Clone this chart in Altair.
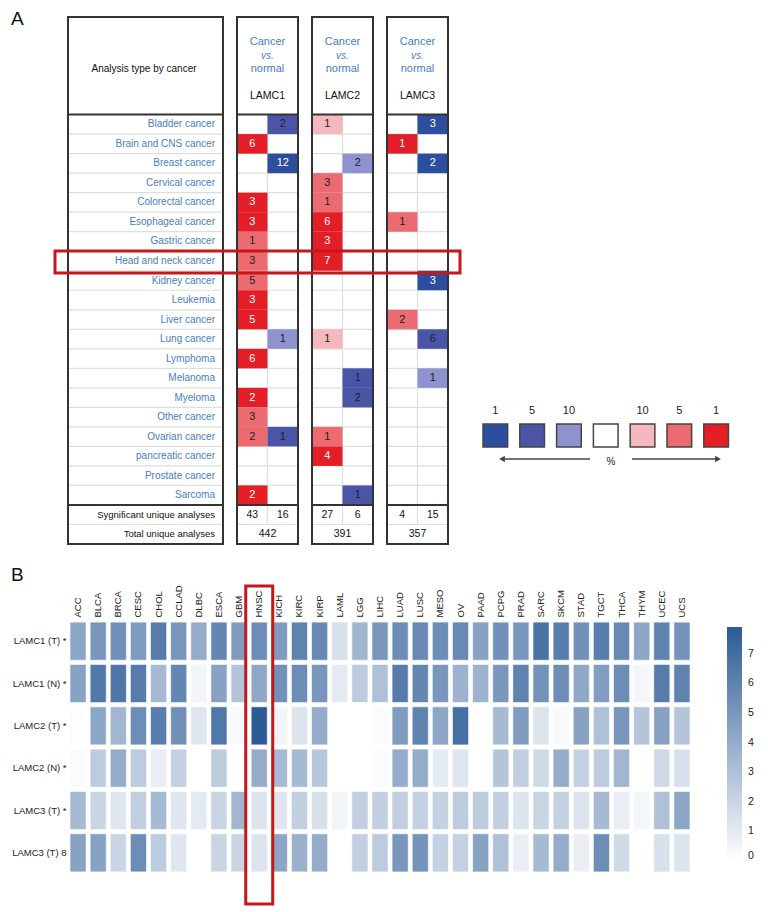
import altair as alt
import pandas as pd

FONT = "Liberation Sans, Arial, sans-serif"
SANS = "Liberation Sans, Arial, sans-serif"
BLUE_TXT = "#4a7dc4"
LINE = "#333333"
GRID = "#dedede"
HILITE = "#c8161d"

# ---------------- Panel A data ----------------
cancers = ["Bladder cancer", "Brain and CNS cancer", "Breast cancer", "Cervical cancer",
           "Colorectal cancer", "Esophageal cancer", "Gastric cancer", "Head and neck cancer",
           "Kidney cancer", "Leukemia", "Liver cancer", "Lung cancer", "Lymphoma", "Melanoma",
           "Myeloma", "Other cancer", "Ovarian cancer", "pancreatic cancer", "Prostate cancer",
           "Sarcoma"]
genes = ["LAMC1", "LAMC2", "LAMC3"]

# counts (0 = no significant analysis); shade: 1 strong, 2 medium, 3 light
LAMC1_up = [0, 6, 0, 0, 3, 3, 1, 3, 5, 3, 5, 0, 6, 0, 2, 3, 2, 0, 0, 2]
LAMC1_up_shade = [0, 1, 0, 0, 1, 1, 2, 2, 2, 1, 1, 0, 1, 0, 1, 2, 2, 0, 0, 1]
LAMC1_down = [2, 0, 12, 0, 0, 0, 0, 0, 0, 0, 0, 1, 0, 0, 0, 0, 1, 0, 0, 0]
LAMC1_down_shade = [2, 0, 1, 0, 0, 0, 0, 0, 0, 0, 0, 3, 0, 0, 0, 0, 2, 0, 0, 0]

LAMC2_up = [1, 0, 0, 3, 1, 6, 3, 7, 0, 0, 0, 1, 0, 0, 0, 0, 1, 4, 0, 0]
LAMC2_up_shade = [3, 0, 0, 2, 2, 1, 1, 1, 0, 0, 0, 3, 0, 0, 0, 0, 2, 1, 0, 0]
LAMC2_down = [0, 0, 2, 0, 0, 0, 0, 0, 0, 0, 0, 0, 0, 1, 2, 0, 0, 0, 0, 1]
LAMC2_down_shade = [0, 0, 3, 0, 0, 0, 0, 0, 0, 0, 0, 0, 0, 2, 2, 0, 0, 0, 0, 2]

LAMC3_up = [0, 1, 0, 0, 0, 1, 0, 0, 0, 0, 2, 0, 0, 0, 0, 0, 0, 0, 0, 0]
LAMC3_up_shade = [0, 1, 0, 0, 0, 2, 0, 0, 0, 0, 2, 0, 0, 0, 0, 0, 0, 0, 0, 0]
LAMC3_down = [3, 0, 2, 0, 0, 0, 0, 0, 3, 0, 0, 6, 0, 1, 0, 0, 0, 0, 0, 0]
LAMC3_down_shade = [1, 0, 1, 0, 0, 0, 0, 0, 1, 0, 0, 2, 0, 3, 0, 0, 0, 0, 0, 0]

significant_up = [43, 27, 4]
significant_down = [16, 6, 15]
total_unique = [442, 391, 357]

levels = ["up1", "up2", "up3", "down1", "down2", "down3", "none"]
level_colors = ["#e41e26", "#ec6b70", "#f4b8be", "#2b4e9e", "#4b55a8", "#8e92cf", "#ffffff"]
legend_levels = ["down1", "down2", "down3", "none", "up3", "up2", "up1"]
legend_labels = ["1", "5", "10", "", "10", "5", "1"]

gene_tables = {
    "LAMC1": (LAMC1_up, LAMC1_up_shade, LAMC1_down, LAMC1_down_shade),
    "LAMC2": (LAMC2_up, LAMC2_up_shade, LAMC2_down, LAMC2_down_shade),
    "LAMC3": (LAMC3_up, LAMC3_up_shade, LAMC3_down, LAMC3_down_shade),
}

# ---------------- Panel B data ----------------
hm_cols = ["ACC", "BLCA", "BRCA", "CESC", "CHOL", "CCLAD", "DLBC", "ESCA", "GBM", "HNSC",
           "KICH", "KIRC", "KIRP", "LAML", "LGG", "LIHC", "LUAD", "LUSC", "MESO", "OV",
           "PAAD", "PCPG", "PRAD", "SARC", "SKCM", "STAD", "TGCT", "THCA", "THYM", "UCEC", "UCS"]
hm_rows = ["LAMC1 (T) *", "LAMC1 (N) *", "LAMC2 (T) *", "LAMC2 (N) *", "LAMC3 (T) *", "LAMC3 (T) 8"]
LAMC1_T = [4.3, 5.0, 5.3, 4.8, 6.3, 5.0, 4.0, 5.8, 4.8, 5.5, 4.8, 6.0, 5.7, 1.5, 3.5, 5.0,
           5.5, 5.7, 5.5, 5.7, 4.5, 5.3, 5.0, 6.8, 6.2, 5.3, 6.2, 5.7, 4.3, 6.0, 5.2]
LAMC1_N = [4.5, 6.5, 6.6, 6.3, 3.3, 5.8, 0.5, 4.5, 2.8, 4.2, 5.3, 5.5, 5.0, 1.0, 2.5, 3.0,
           6.3, 5.8, 5.0, 3.7, 3.7, 5.0, 6.0, 5.2, 5.5, 4.2, 4.7, 5.5, 0.4, 6.3, 6.0]
LAMC2_T = [0.1, 4.3, 3.5, 5.5, 6.2, 5.3, 1.2, 6.5, 0.3, 7.9, 0.5, 1.3, 4.0, 0.0, 0.0, 0.2,
           4.8, 6.0, 4.3, 6.9, 0.0, 3.3, 4.8, 1.3, 0.3, 4.5, 3.0, 5.0, 2.8, 4.5, 2.8]
LAMC2_N = [0.2, 2.5, 4.0, 2.5, 0.8, 2.2, 0.0, 2.5, 0.0, 4.0, 3.3, 3.3, 2.7, 0.0, 0.0, 0.2,
           4.0, 4.0, 1.0, 1.2, 0.0, 2.8, 2.3, 1.8, 4.0, 2.2, 2.5, 3.5, 0.0, 1.8, 1.5]
LAMC3_T = [3.3, 2.0, 1.2, 2.3, 3.3, 1.2, 1.0, 2.0, 3.5, 1.3, 1.2, 2.3, 1.5, 0.5, 2.3, 2.3,
           2.3, 2.2, 2.2, 2.5, 2.5, 2.3, 1.3, 2.0, 2.2, 1.3, 3.3, 0.8, 0.4, 3.0, 4.3]
LAMC3_T8 = [4.5, 4.5, 2.0, 5.5, 2.5, 1.2, 0.0, 2.0, 2.0, 1.3, 4.3, 3.8, 4.0, 0.0, 2.3, 2.5,
            5.0, 5.2, 2.2, 2.2, 4.5, 3.0, 0.8, 3.3, 4.0, 0.8, 5.5, 1.8, 0.0, 1.5, 1.3]
hm_values = [LAMC1_T, LAMC1_N, LAMC2_T, LAMC2_N, LAMC3_T, LAMC3_T8]
colorbar_ticks = [0, 1, 2, 3, 4, 5, 6, 7]

# ---------------- layout constants ----------------
NB = len(cancers)
W_LABEL, W_GENE, W_LEG, H_A = 155, 61, 280, 527
LETTER_X = -57
one = pd.DataFrame({"k": [0]})
ys = alt.Scale(domain=[-5, NB + 2], reverse=True, nice=False, zero=False)
xs_gene = alt.Scale(domain=[0, 2], nice=False, zero=False)
level_scale = alt.Scale(domain=levels, range=level_colors)
row_bounds = pd.DataFrame({"b": list(range(1, NB)) + [NB + 1]})
thick_bounds = pd.DataFrame({"b": [0, NB]})


def frame_layers(width):
    grid = alt.Chart(row_bounds).mark_rule(color=GRID, strokeWidth=1.2).encode(
        x=alt.value(0), x2=alt.value(width), y=alt.Y("b:Q", scale=ys, axis=None))
    thick = alt.Chart(thick_bounds).mark_rule(color=LINE, strokeWidth=2).encode(
        x=alt.value(0), x2=alt.value(width), y=alt.Y("b:Q", scale=ys, axis=None))
    outline = alt.Chart(one).mark_rect(filled=False, stroke=LINE, strokeWidth=2).encode(
        x=alt.value(0), x2=alt.value(width),
        y=alt.YDatum(-5, scale=ys, axis=None), y2=alt.Y2Datum(NB + 2))
    return grid, thick, outline


def label_chart():
    grid, thick, outline = frame_layers(W_LABEL)
    lab_df = pd.DataFrame({"cancer": cancers, "row": list(range(NB))})
    labels = alt.Chart(lab_df).transform_calculate(yc="datum.row + 0.5").mark_text(
        align="right", color=BLUE_TXT, font=FONT, fontSize=10).encode(
        x=alt.value(147), y=alt.Y("yc:Q", scale=ys, axis=None), text="cancer:N")
    foot_df = pd.DataFrame({"t": ["Sygnificant unique analyses", "Total unique analyses"],
                            "r": [NB, NB + 1]})
    foot = alt.Chart(foot_df).transform_calculate(yc="datum.r + 0.5").mark_text(
        align="right", color="#111", font=FONT, fontSize=9.5).encode(
        x=alt.value(147), y=alt.Y("yc:Q", scale=ys, axis=None), text="t:N")
    head = alt.Chart(one).mark_text(text="Analysis type by cancer", color="#111",
                                    font=FONT, fontSize=10).encode(
        x=alt.value(76), y=alt.value(52))
    letter = alt.Chart(one).mark_text(text="A", font=SANS, fontSize=19, align="left",
                                      baseline="top", color="#111").encode(
        x=alt.value(LETTER_X), y=alt.value(-7))
    return alt.layer(grid, labels, foot, head, thick, outline, letter).properties(
        width=W_LABEL, height=H_A)


def gene_chart(gi):
    g = genes[gi]
    up, ups, dn, dns = gene_tables[g]
    recs = []
    for i in range(NB):
        if up[i]:
            recs.append({"row": i, "col": 0, "n": up[i], "level": f"up{ups[i]}"})
        if dn[i]:
            recs.append({"row": i, "col": 1, "n": dn[i], "level": f"down{dns[i]}"})
    cells = pd.DataFrame(recs)
    grid, thick, outline = frame_layers(W_GENE)
    vdiv = alt.Chart(one).mark_rule(color=GRID, strokeWidth=1.2).encode(
        x=alt.XDatum(1, scale=xs_gene, axis=None),
        y=alt.YDatum(0, scale=ys, axis=None), y2=alt.Y2Datum(NB + 1))
    rect = alt.Chart(cells).transform_calculate(
        col2="datum.col + 1", row2="datum.row + 1").mark_rect().encode(
        x=alt.X("col:Q", scale=xs_gene, axis=None), x2="col2:Q",
        y=alt.Y("row:Q", scale=ys, axis=None), y2="row2:Q",
        color=alt.Color("level:N", scale=level_scale, legend=None))
    tbase = alt.Chart(cells).transform_calculate(xc="datum.col + 0.5", yc="datum.row + 0.5")
    enc = dict(x=alt.X("xc:Q", scale=xs_gene, axis=None),
               y=alt.Y("yc:Q", scale=ys, axis=None), text="n:Q")
    t_strong = tbase.transform_filter(
        "datum.level == 'up1' || datum.level == 'down1'").mark_text(
        color="white", font=FONT, fontSize=11).encode(**enc)
    t_soft = tbase.transform_filter(
        "datum.level != 'up1' && datum.level != 'down1'").mark_text(
        color="#222", font=FONT, fontSize=11).encode(**enc)
    foot_df = pd.DataFrame({"col": [0, 1], "n": [significant_up[gi], significant_down[gi]]})
    foot = alt.Chart(foot_df).transform_calculate(
        xc="datum.col + 0.5", yc=f"{NB} + 0.5").mark_text(
        color="#111", font=FONT, fontSize=10.5).encode(
        x=alt.X("xc:Q", scale=xs_gene, axis=None),
        y=alt.Y("yc:Q", scale=ys, axis=None), text="n:Q")
    total = alt.Chart(pd.DataFrame({"n": [total_unique[gi]]})).mark_text(
        color="#111", font=FONT, fontSize=10.5).encode(
        x=alt.XDatum(1, scale=xs_gene, axis=None),
        y=alt.YDatum(NB + 1.5, scale=ys, axis=None), text="n:Q")
    h1 = alt.Chart(one).mark_text(text="Cancer", color=BLUE_TXT, font=FONT, fontSize=11).encode(
        x=alt.value(W_GENE / 2), y=alt.value(25))
    h2 = alt.Chart(one).mark_text(text="vs.", color=BLUE_TXT, font=FONT, fontSize=10,
                                  fontStyle="italic").encode(
        x=alt.value(W_GENE / 2), y=alt.value(39))
    h3 = alt.Chart(one).mark_text(text="normal", color=BLUE_TXT, font=FONT, fontSize=11).encode(
        x=alt.value(W_GENE / 2), y=alt.value(52))
    h4 = alt.Chart(one).mark_text(text=g, color="#111", font=FONT, fontSize=10.5).encode(
        x=alt.value(W_GENE / 2), y=alt.value(79))
    return alt.layer(grid, vdiv, rect, t_strong, t_soft, foot, total, h1, h2, h3, h4,
                     thick, outline).properties(width=W_GENE, height=H_A)


def legend_chart():
    leg_df = pd.DataFrame({"i": list(range(len(legend_levels))),
                           "level": legend_levels, "lab": legend_labels})
    xs_leg = alt.Scale(domain=[0, 7], range=[21, 278.6], nice=False, zero=False)
    boxes = alt.Chart(leg_df).transform_calculate(i2="datum.i + 0.67").mark_rect(
        stroke="#444", strokeWidth=1.5).encode(
        x=alt.X("i:Q", scale=xs_leg, axis=None), x2="i2:Q",
        y=alt.value(407), y2=alt.value(430),
        color=alt.Color("level:N", scale=level_scale, legend=None))
    labs = alt.Chart(leg_df).transform_calculate(ic="datum.i + 0.335").mark_text(
        font=FONT, fontSize=11, color="#222").encode(
        x=alt.X("ic:Q", scale=xs_leg, axis=None), y=alt.value(394), text="lab:N")
    l_line = alt.Chart(one).mark_rule(color="#444", strokeWidth=1.3).encode(
        x=alt.value(40), x2=alt.value(128), y=alt.value(442))
    l_head = alt.Chart(one).mark_point(shape="triangle-left", filled=True, color="#444",
                                       size=45, opacity=1).encode(
        x=alt.value(40), y=alt.value(442))
    r_line = alt.Chart(one).mark_rule(color="#444", strokeWidth=1.3).encode(
        x=alt.value(170), x2=alt.value(256), y=alt.value(442))
    r_head = alt.Chart(one).mark_point(shape="triangle-right", filled=True, color="#444",
                                       size=45, opacity=1).encode(
        x=alt.value(256), y=alt.value(442))
    pct = alt.Chart(one).mark_text(text="%", font=FONT, fontSize=10, color="#222").encode(
        x=alt.value(149), y=alt.value(445))
    hl = alt.Chart(one).mark_rect(filled=False, stroke=HILITE, strokeWidth=3).encode(
        x=alt.value(-407), x2=alt.value(-2), y=alt.value(234), y2=alt.value(256))
    return alt.layer(boxes, labs, l_line, l_head, r_line, r_head, pct, hl).properties(
        width=W_LEG, height=H_A)


row_a = alt.hconcat(label_chart(), gene_chart(0), gene_chart(1), gene_chart(2),
                    legend_chart(), spacing=14, bounds="flush")

# ---------------- Panel B ----------------
hm_df = pd.DataFrame([{"row": r, "col": c, "v": v}
                      for r, vals in zip(hm_rows, hm_values)
                      for c, v in zip(hm_cols, vals)])
heat = alt.Chart(hm_df).mark_rect(stroke="#ffffff", strokeWidth=1, strokeOpacity=0.6).encode(
    x=alt.X("col:N", sort=hm_cols,
            scale=alt.Scale(domain=hm_cols, paddingInner=0.2, paddingOuter=0.1),
            axis=alt.Axis(orient="top", labelAngle=270, domain=False, ticks=False,
                          labelPadding=3, labelFont=FONT, labelFontSize=9.5,
                          labelColor="#222", title=None)),
    y=alt.Y("row:N", sort=hm_rows,
            scale=alt.Scale(domain=hm_rows, paddingInner=0.1, paddingOuter=0.05),
            axis=alt.Axis(domain=False, ticks=False, labelPadding=2, labelFont=FONT,
                          labelFontSize=9.5, labelColor="#222", title=None)),
    color=alt.Color("v:Q", scale=alt.Scale(domain=[0, 7.9], range=["#ffffff", "#2c5b96"],
                                           interpolate="rgb", nice=False),
                    legend=alt.Legend(orient="none", legendX=659, legendY=7,
                                      direction="vertical", gradientLength=234,
                                      gradientThickness=15, values=colorbar_ticks,
                                      title=None, labelFont=FONT, labelFontSize=10.5,
                                      labelColor="#222", labelOffset=6,
                                      gradientStrokeWidth=0)))
hl_b = alt.Chart(pd.DataFrame({"col": ["HNSC"]})).mark_bar(
    filled=False, stroke=HILITE, strokeWidth=3, width=27).encode(
    x=alt.X("col:N", sort=hm_cols), y=alt.value(-34), y2=alt.value(284))
letter_b = alt.Chart(one).mark_text(text="B", font=SANS, fontSize=19, align="left",
                                    baseline="top", color="#111").encode(
    x=alt.value(LETTER_X), y=alt.value(-54))
row_b = alt.layer(heat, hl_b, letter_b).properties(width=624, height=254)

chart = alt.vconcat(row_a, row_b, spacing=21).resolve_scale(
    color="independent").properties(
    padding={"left": 3, "top": 2, "right": 4, "bottom": 0}).configure_view(strokeWidth=0)

chart.save("out.html", embed_options={"renderer": "svg", "actions": False})
